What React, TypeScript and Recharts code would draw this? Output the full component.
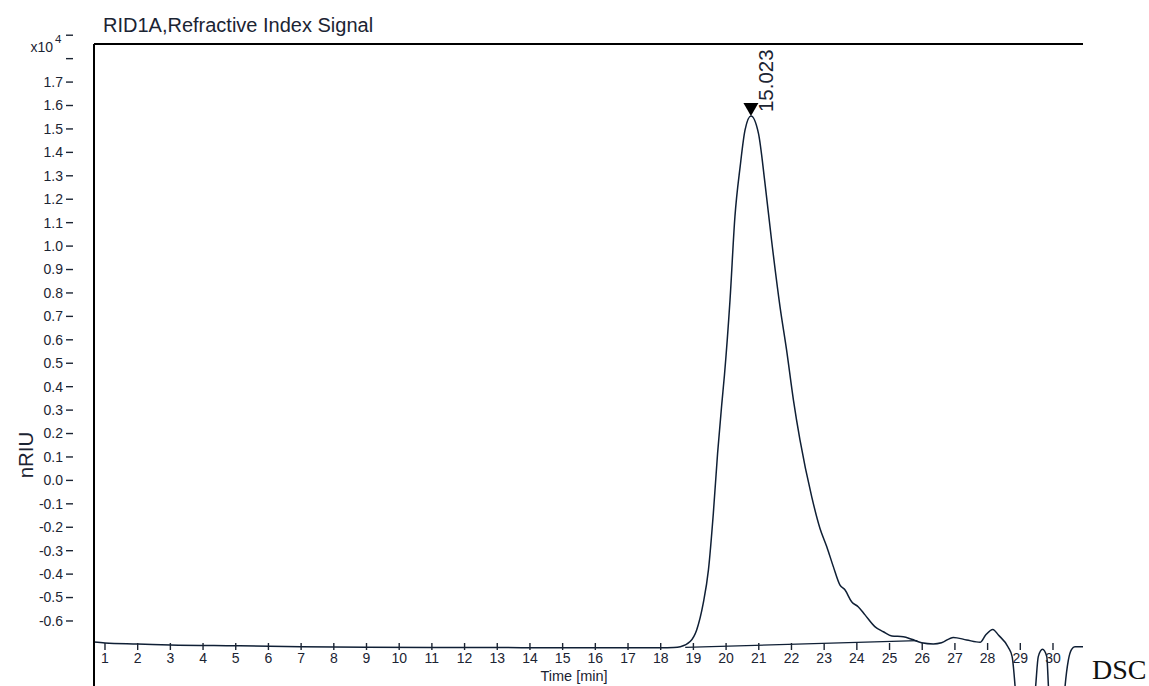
import { LineChart, Line, XAxis, YAxis, ReferenceLine, ReferenceDot } from "recharts";

// RI detector trace, time in min, signal in nRIU x10^4
const signalTime = [
  0.664, 1.0, 2.0, 3.0, 5.0, 7.0, 9.0, 12.0, 15.0, 18.0, 18.4, 18.6, 18.9, 19.1, 19.3, 19.46, 19.61,
  19.74, 19.87, 19.95, 20.12, 20.27, 20.43, 20.58, 20.76, 20.99, 21.19, 21.39, 21.65, 21.85, 22.06,
  22.26, 22.62, 22.87, 23.08, 23.28, 23.48, 23.64, 23.84, 24.04, 24.25, 24.55, 24.81, 25.07, 25.42,
  25.68, 25.98, 26.34, 26.59, 26.95, 27.36, 27.77, 27.94, 28.16, 28.33, 28.63, 28.75, 28.84, 29.1,
  29.47, 29.55, 29.68, 29.81, 29.86, 30.1, 30.37, 30.47, 30.57, 30.67, 30.918,
];
const signalValue = [
  -0.69, -0.694, -0.698, -0.702, -0.706, -0.71, -0.712, -0.713, -0.714, -0.714, -0.713, -0.71, -0.688,
  -0.638, -0.525, -0.382, -0.14, 0.116, 0.329, 0.45, 0.77, 1.125, 1.339, 1.496, 1.555, 1.481, 1.268,
  1.026, 0.741, 0.557, 0.343, 0.173, -0.07, -0.204, -0.283, -0.368, -0.446, -0.468, -0.518, -0.539,
  -0.574, -0.624, -0.646, -0.664, -0.667, -0.678, -0.693, -0.698, -0.693, -0.67, -0.681, -0.691,
  -0.66, -0.636, -0.66, -0.712, -0.752, -0.878, -1.6, -0.878, -0.752, -0.721, -0.752, -0.878, -1.6,
  -0.878, -0.767, -0.721, -0.71, -0.71,
];

// integration baseline under the main peak
const baselineTime = [18.75, 25.85];
const baselineValue = [-0.713, -0.684];

const xTicks = [
  1, 2, 3, 4, 5, 6, 7, 8, 9, 10, 11, 12, 13, 14, 15, 16, 17, 18, 19, 20, 21, 22, 23, 24, 25, 26, 27,
  28, 29, 30,
];
const yTicks = [
  -0.6, -0.5, -0.4, -0.3, -0.2, -0.1, 0, 0.1, 0.2, 0.3, 0.4, 0.5, 0.6, 0.7, 0.8, 0.9, 1.0, 1.1, 1.2,
  1.3, 1.4, 1.5, 1.6, 1.7, 1.8, 1.9,
];

const peakTime = 20.76;
const peakValue = 1.555;
const peakLabel = "15.023";

const INK = "#0f1f35";
const TEXT = "#1b2433";
const SANS = "'Liberation Sans', Arial, sans-serif";
const X_DOMAIN: [number, number] = [0.664, 30.918];
const Y_DOMAIN: [number, number] = [-0.8775, 1.8625];
const X_AXIS_AT = -0.694;
const LAST_LABELED = 1.7;
const TOP_TICK = 1.9;

const signal = signalTime.map((t, i) => ({ t, v: signalValue[i] }));
const baseline = baselineTime.map((t, i) => ({ t, v: baselineValue[i] }));

function YTick(props: any) {
  const { x, y, payload } = props;
  const v = payload.value as number;
  return (
    <g>
      <line x1={x - 28} x2={x - 21} y1={y} y2={y} stroke={TEXT} strokeWidth={1.4} />
      {v <= LAST_LABELED + 1e-9 && (
        <text x={x - 31} y={y} dy="0.35em" textAnchor="end" fontSize={14} fontFamily={SANS} fill={TEXT}>
          {v.toFixed(1)}
        </text>
      )}
      {Math.abs(v - TOP_TICK) < 1e-9 && (
        <g fontFamily={SANS} fill={TEXT}>
          <text x={x - 41} y={y + 12} dy="0.35em" textAnchor="end" fontSize={14}>
            x10
          </text>
          <text x={x - 39} y={y + 4} dy="0.35em" fontSize={11.5}>
            4
          </text>
        </g>
      )}
    </g>
  );
}

function XTickMark(props: any) {
  const { cx, cy, label } = props;
  return (
    <g>
      <line x1={cx} x2={cx} y1={cy} y2={cy + 7} stroke={TEXT} strokeWidth={1.4} />
      <text x={cx} y={cy + 15.5} dy="0.35em" textAnchor="middle" fontSize={14} fontFamily={SANS} fill={TEXT}>
        {label}
      </text>
    </g>
  );
}

function PeakMarker(props: any) {
  const { cx, cy } = props;
  return (
    <g>
      <polygon points={`${cx - 7.5},${cy - 13} ${cx + 7.5},${cy - 13} ${cx},${cy}`} fill="#000" />
      <text
        transform={`translate(${cx + 22},${cy - 4}) rotate(-90)`}
        fontSize={20.5}
        fontFamily={SANS}
        fill={TEXT}
      >
        {peakLabel}
      </text>
    </g>
  );
}

export default function App() {
  return (
    <div style={{ position: "absolute", left: 0, top: 0, width: 1149, height: 686, overflow: "hidden", background: "#fff" }}>
      <LineChart width={1149} height={686} margin={{ top: 44, right: 66, bottom: 0, left: 0 }}>
        <XAxis type="number" dataKey="t" domain={X_DOMAIN} allowDataOverflow hide />
        <YAxis
          type="number"
          dataKey="v"
          width={94}
          domain={Y_DOMAIN}
          allowDataOverflow
          ticks={yTicks}
          interval={0}
          tickSize={0}
          tickMargin={0}
          tickLine={false}
          axisLine={{ stroke: "#000", strokeWidth: 2 }}
          tick={<YTick />}
        />
        <ReferenceLine y={Y_DOMAIN[1]} stroke="#000" strokeWidth={2} />
        {xTicks.map((t) => (
          <ReferenceDot
            key={t}
            x={t}
            y={X_AXIS_AT}
            r={0}
            shape={(p: any) => <XTickMark {...p} label={String(t)} />}
          />
        ))}
        <Line
          data={baseline}
          dataKey="v"
          type="linear"
          stroke={INK}
          strokeWidth={1.2}
          dot={false}
          isAnimationActive={false}
        />
        <Line
          data={signal}
          dataKey="v"
          type="monotone"
          stroke={INK}
          strokeWidth={1.5}
          dot={false}
          isAnimationActive={false}
        />
        <ReferenceDot x={peakTime} y={peakValue} r={0} shape={(p: any) => <PeakMarker {...p} />} />
      </LineChart>
      <svg
        width={1149}
        height={686}
        style={{ position: "absolute", left: 0, top: 0, pointerEvents: "none" }}
      >
        <text x={103} y={31.5} fontSize={20} fontFamily={SANS} fill={TEXT}>
          RID1A,Refractive Index Signal
        </text>
        <text
          transform="translate(26,455) rotate(-90)"
          dy="0.35em"
          textAnchor="middle"
          fontSize={20.5}
          fontFamily={SANS}
          fill={TEXT}
        >
          nRIU
        </text>
        <text x={574} y={681} textAnchor="middle" fontSize={14.5} fontFamily={SANS} fill={TEXT}>
          Time [min]
        </text>
        <text x={1092} y={679} fontSize={28} fontFamily="'Liberation Serif', 'Times New Roman', serif" fill="#111">
          DSC
        </text>
      </svg>
    </div>
  );
}
